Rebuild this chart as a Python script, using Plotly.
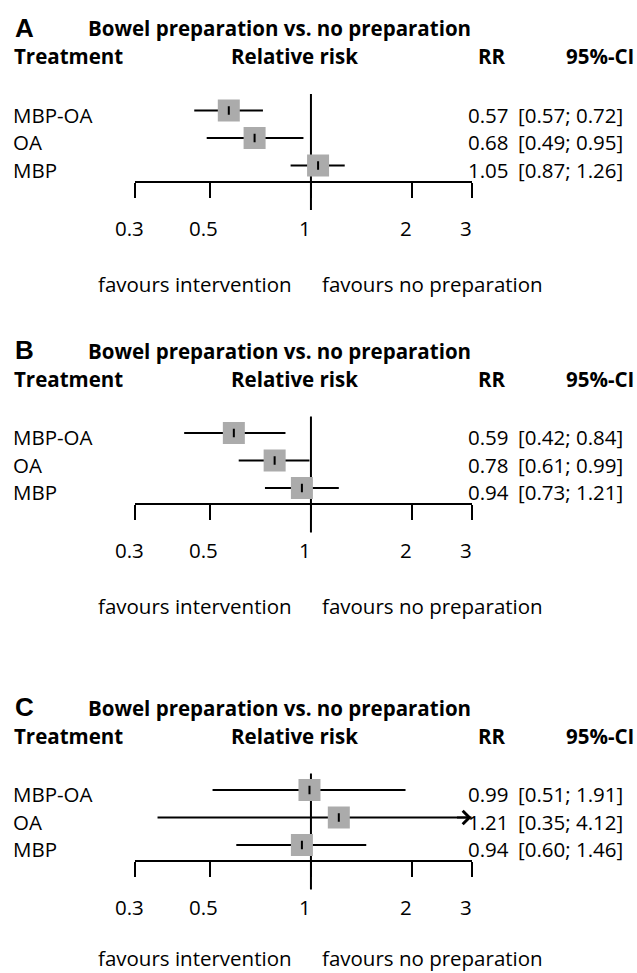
import math
import plotly.graph_objects as go

W, H = 637, 973

# ---------------- data ----------------
panel_letters = ["A", "B", "C"]
panel_title = "Bowel preparation vs. no preparation"
header_labels = ["Treatment", "Relative risk", "RR", "95%-CI"]
treatments = ["MBP-OA", "OA", "MBP"]

rr_A = [0.57, 0.68, 1.05]
lower_A = [0.45, 0.49, 0.87]
upper_A = [0.72, 0.95, 1.26]
ci_text_A = ["[0.57; 0.72]", "[0.49; 0.95]", "[0.87; 1.26]"]

rr_B = [0.59, 0.78, 0.94]
lower_B = [0.42, 0.61, 0.73]
upper_B = [0.84, 0.99, 1.21]
ci_text_B = ["[0.42; 0.84]", "[0.61; 0.99]", "[0.73; 1.21]"]

rr_C = [0.99, 1.21, 0.94]
lower_C = [0.51, 0.35, 0.60]
upper_C = [1.91, 4.12, 1.46]
ci_text_C = ["[0.51; 1.91]", "[0.35; 4.12]", "[0.60; 1.46]"]

tick_values = [0.3, 0.5, 1, 2, 3]
tick_labels = ["0.3", "0.5", "1", "2", "3"]
x_min, x_max = 0.3, 3
favours_left = "favours intervention"
favours_right = "favours no preparation"

panels = [
    (rr_A, lower_A, upper_A, ci_text_A),
    (rr_B, lower_B, upper_B, ci_text_B),
    (rr_C, lower_C, upper_C, ci_text_C),
]

# ---------------- layout helpers ----------------
def px(x):
    return x / W

def py(y):
    return 1 - y / H

panel_offsets = [0, 322.5, 679.5]
favours_y = [283.7, 283.7, 278.5]
row_vals = [3, 2, 1]
FONT = "Open Sans"
FS = 20.5
BLACK = "#000000"
GREY = "#ababab"
LW = 2

fig = go.Figure()
annotations = []
shapes = []
layout = dict(
    width=W, height=H, autosize=False,
    margin=dict(l=0, r=0, t=0, b=0),
    paper_bgcolor="white", plot_bgcolor="rgba(0,0,0,0)",
    showlegend=False,
    font=dict(family=FONT, size=FS, color=BLACK),
)

for i, (rr, lo, hi, ci_txt) in enumerate(panels):
    off = panel_offsets[i]
    s = "" if i == 0 else str(i + 1)
    xa, ya = "x" + s, "y" + s

    layout["xaxis" + s] = dict(
        type="log", range=[math.log10(x_min), math.log10(x_max)],
        domain=[px(135), px(471.5)], anchor=ya,
        showline=True, linecolor=BLACK, linewidth=LW,
        ticks="outside", ticklen=15, tickwidth=LW, tickcolor=BLACK,
        tickvals=tick_values, showticklabels=False,
        showgrid=False, zeroline=False, fixedrange=True,
    )
    layout["yaxis" + s] = dict(
        range=[0.45, 3.6], domain=[py(180.7 + off), py(94 + off)],
        anchor=xa, visible=False, fixedrange=True,
    )

    # squares with CI lines
    fig.add_trace(go.Scatter(
        x=rr, y=row_vals, xaxis=xa, yaxis=ya, mode="markers",
        marker=dict(symbol="square", size=22, color=GREY, line=dict(width=0)),
        error_x=dict(type="data", symmetric=False,
                     array=[h - r for h, r in zip(hi, rr)],
                     arrayminus=[r - l for r, l in zip(rr, lo)],
                     color=BLACK, thickness=LW, width=0),
        hoverinfo="skip", showlegend=False,
    ))
    # small vertical tick at point estimate
    fig.add_trace(go.Scatter(
        x=rr, y=row_vals, xaxis=xa, yaxis=ya, mode="markers",
        marker=dict(symbol="line-ns", size=6, color=BLACK,
                    line=dict(width=LW, color=BLACK)),
        hoverinfo="skip", showlegend=False,
    ))
    # arrows for CIs beyond the axis
    for r, h, yv in zip(rr, hi, row_vals):
        if h > x_max:
            annotations.append(dict(
                x=math.log10(x_max), y=yv, xref=xa, yref=ya, text="",
                showarrow=True, ax=-16, ay=0, arrowhead=4, arrowsize=1.3,
                arrowwidth=LW, arrowcolor=BLACK, standoff=0,
            ))

    # reference line at 1
    shapes.append(dict(
        type="line", xref=xa, yref="paper", x0=1, x1=1,
        y0=py(94 + off), y1=py(210 + off),
        line=dict(color=BLACK, width=LW), layer="below",
    ))

    # panel letter and title
    annotations.append(dict(
        x=px(12.5), y=py(27.5 + off), xref="paper", yref="paper",
        text=panel_letters[i], showarrow=False, xanchor="left", yanchor="middle",
        font=dict(family="Liberation Sans", size=26, color=BLACK, weight="bold"),
    ))
    annotations.append(dict(
        x=px(85.5), y=py(28 + off), xref="paper", yref="paper",
        text=panel_title, showarrow=False, xanchor="left", yanchor="middle",
        font=dict(family=FONT, size=FS, color=BLACK, weight="bold"),
    ))
    # headers
    hdr_pos = [(12, "left"), (294, "center"), (508, "right"), (636, "right")]
    for lab, (hx, anc) in zip(header_labels, hdr_pos):
        annotations.append(dict(
            x=px(hx), y=py(56 + off), xref="paper", yref="paper",
            text=lab, showarrow=False, xanchor=anc, yanchor="middle",
            font=dict(family=FONT, size=FS, color=BLACK, weight="bold"),
        ))
    # row texts
    for name, r, ct, yv in zip(treatments, rr, ci_txt, row_vals):
        for txt, hx, anc in [(name, 11, "left"), (f"{r:.2f}", 511, "right"),
                             (ct, 625, "right")]:
            annotations.append(dict(
                x=px(hx), y=yv, xref="paper", yref=ya, yshift=-4,
                text=txt, showarrow=False, xanchor=anc, yanchor="middle",
                font=dict(family=FONT, size=FS, color=BLACK),
            ))
    # tick labels
    for tv, tl in zip(tick_values, tick_labels):
        annotations.append(dict(
            x=math.log10(tv), y=py(227.5 + off), xref=xa, yref="paper",
            xshift=-6, text=tl, showarrow=False, xanchor="center", yanchor="middle",
            font=dict(family=FONT, size=FS, color=BLACK),
        ))
    # favours labels
    fy = favours_y[i] + off
    annotations.append(dict(
        x=px(293), y=py(fy), xref="paper", yref="paper", borderpad=0,
        text=favours_left, showarrow=False, xanchor="right", yanchor="middle",
        font=dict(family=FONT, size=FS, color=BLACK),
    ))
    annotations.append(dict(
        x=px(321), y=py(fy), xref="paper", yref="paper", borderpad=0,
        text=favours_right, showarrow=False, xanchor="left", yanchor="middle",
        font=dict(family=FONT, size=FS, color=BLACK),
    ))

layout["annotations"] = annotations
layout["shapes"] = shapes
fig.update_layout(**layout)
fig.write_html("out.html")
